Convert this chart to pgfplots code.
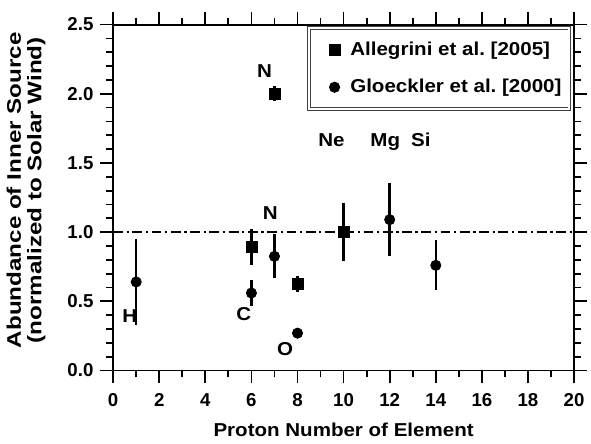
\documentclass[border=0pt]{standalone}
\usepackage{fontspec}
\setmainfont{Liberation Sans}
\newfontfamily\wideA[FakeStretch=1.10]{Liberation Sans}
\newfontfamily\wideB[FakeStretch=1.23]{Liberation Sans}
\usepackage{pgfplots}
\pgfplotsset{compat=1.18}
\frenchspacing
\begin{document}
\begin{tikzpicture}
\begin{axis}[
  name=ax,
  scale only axis,
  width=234.5pt, height=176pt,
  xmin=0, xmax=20, ymin=0, ymax=2.5,
  xtick={0,2,...,20}, minor x tick num=1,
  ytick={0,0.5,...,2.5}, minor y tick num=4,
  tick align=outside,
  major tick length=6.5pt, minor tick length=3.5pt,
  axis line style={line width=1pt},
  every tick/.style={black, line width=0.9pt},
  tick pos=both,
  /pgf/number format/assume math mode=true,
  ticklabel style={font=\fontsize{9.5}{11}\selectfont\bfseries},
  yticklabel style={/pgf/number format/fixed,/pgf/number format/fixed zerofill,/pgf/number format/precision=1},
  xticklabel style={yshift=-1.5pt},
  xlabel={Proton Number of Element},
  xlabel style={font=\wideA\fontsize{9.5}{11}\selectfont\bfseries, yshift=-1.5pt},
  ylabel={Abundance of Inner Source\\(normalized to Solar Wind)},
  ylabel style={font=\wideB\fontsize{10}{10.5}\selectfont\bfseries, align=center,
    at={(axis description cs:-0.189,0.521)}, anchor=center},
  legend style={at={(0.424,0.991)}, anchor=north west, draw=black!75, line width=0.45pt,
    double=white, double distance=0.9pt,
    font=\wideA\fontsize{9.5}{11}\selectfont\bfseries, row sep=6.5pt, inner xsep=2pt, inner ysep=5pt,
    nodes={inner xsep=2pt}},
  legend cell align=left,
  legend image code/.code={\path[draw=none, double=none] (0pt,0pt) -- (17pt,0pt); \draw[#1, double=none, draw=none] plot coordinates {(11pt,0pt)};},
  error bars/error bar style={line width=1.3pt, black},
]
\addplot[black, line width=1pt, dash pattern=on 5pt off 1.8pt on 1.2pt off 1.8pt, forget plot] coordinates {(0,1) (20,1)};
\addplot[only marks, mark=square*, mark size=2.8pt, black,
  error bars/.cd, y dir=both, y explicit, error mark=none]
  table[x=x, y=y, y error=e] {
x y e
6 0.89 0.13
7 2.00 0.055
8 0.625 0.06
10 1.00 0.21
};
\addlegendentry{Allegrini et al. [2005]}
\addplot[only marks, mark=*, mark size=2.6pt, black,
  error bars/.cd, y dir=both, y explicit, error mark=none]
  table[x=x, y=y, y error=e] {
x y e
1 0.64 0.31
6 0.56 0.095
7 0.825 0.16
8 0.27 0
12 1.09 0.265
14 0.76 0.18
};
\addlegendentry{Gloeckler et al. [2000]}
\begin{scope}[every node/.style={font=\wideA\fontsize{9.5}{11}\selectfont\bfseries, anchor=base, inner sep=0pt}]
\node at (axis cs:6.57,2.116) {N};
\node at (axis cs:9.47,1.62) {Ne};
\node at (axis cs:11.81,1.62) {Mg};
\node at (axis cs:13.35,1.62) {Si};
\node at (axis cs:6.82,1.094) {N};
\node at (axis cs:0.72,0.348) {H};
\node at (axis cs:5.67,0.362) {C};
\node at (axis cs:7.46,0.107) {O};
\end{scope}
\end{axis}
\path ([shift={(-55.5pt,-32.5pt)}]ax.south west) rectangle ([shift={(5.5pt,12.5pt)}]ax.north east);
\end{tikzpicture}
\end{document}
